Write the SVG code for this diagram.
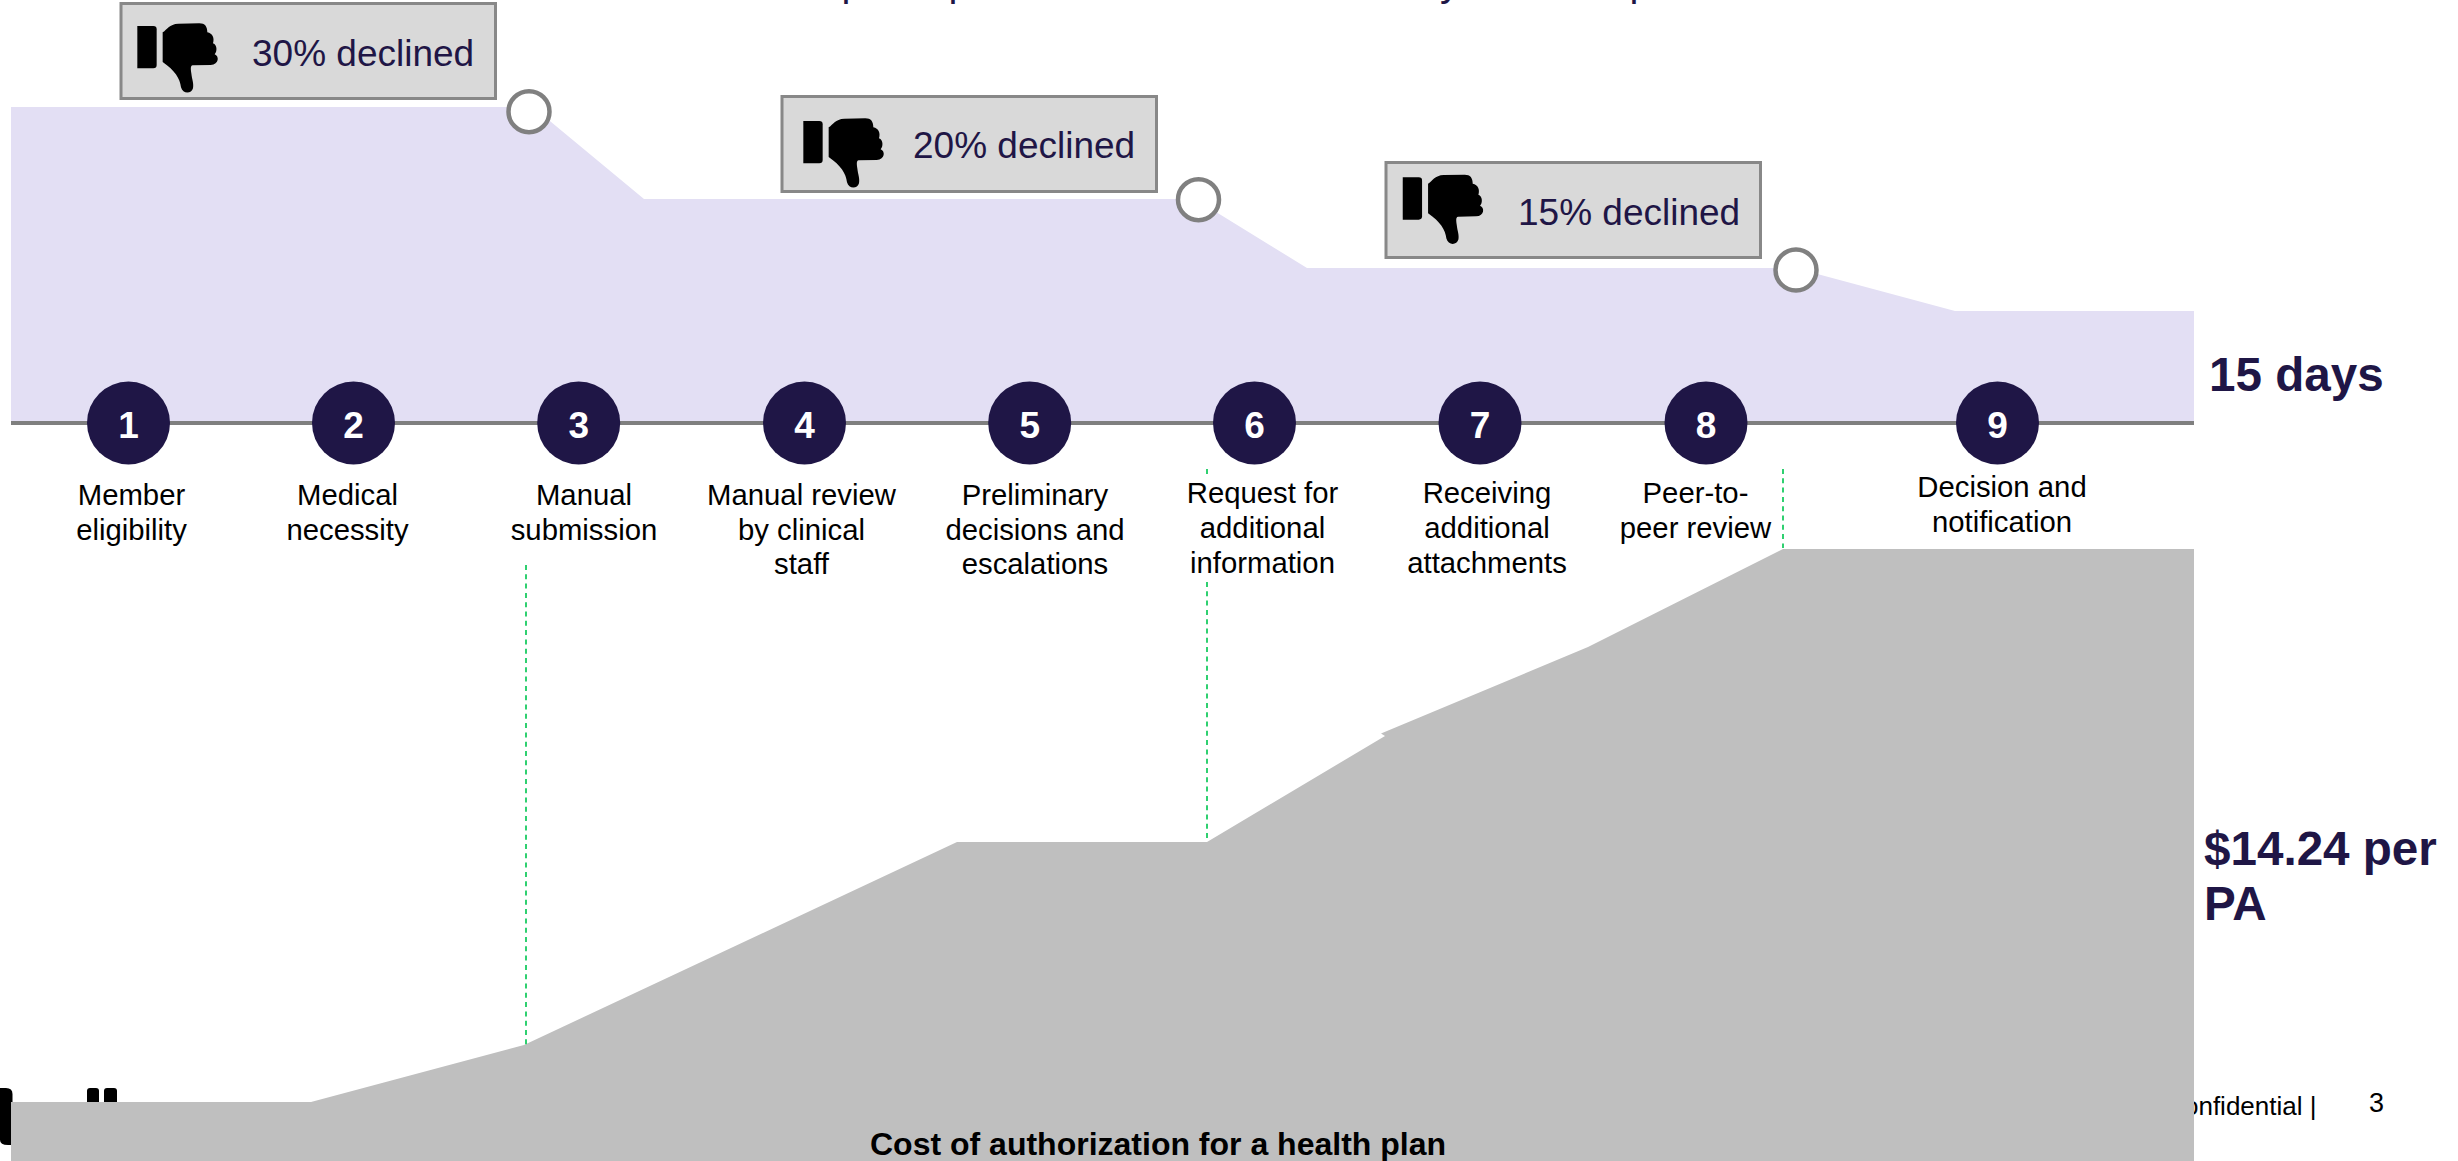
<svg xmlns="http://www.w3.org/2000/svg" width="2458" height="1161" viewBox="0 0 2458 1161">
<style>
text{font-family:"Liberation Sans",Arial,sans-serif}
.lab{font-size:29.300px;fill:#000;text-anchor:middle}
.num{font-size:37px;font-weight:700;fill:#fff;text-anchor:middle}
.dot{fill:#1f1646}
.tag{fill:#d9d9d9;stroke:#888;stroke-width:3}
.dec{font-size:37px;fill:#1f1646}
.big{font-size:47.600px;font-weight:700;fill:#1f1646}
.ring{fill:#fff;stroke:#808080;stroke-width:4.500}
.dash{stroke:#2fd070;stroke-width:2;stroke-dasharray:5 4.300;fill:none}
.ttl{font-size:40px;fill:#1f1646}
</style>
<defs>
<g id="thumb" transform="scale(0.3333)">
<path d="M52 78H100Q110 78 110 88V195Q110 205 100 205H52Z"/>
<path d="M128 97C140 90 148 72 175 71L238 70C255 70 262 80 262 97C278 100 284 115 279 130C292 135 292 155 284 163C298 168 298 194 272 195L218 196C210 197 213 210 214 220C216 240 222 250 219 265C215 282 188 283 183 262C180 235 165 212 128 186Z"/>
</g>
</defs>
<rect width="2458" height="1161" fill="#fff"/>
<g id="title-remnant">
<text class="ttl" x="841.600" y="-4">p</text>
<text class="ttl" x="948.600" y="-4">p</text>
<text class="ttl" x="1440" y="-4">y</text>
<text class="ttl" x="1629.600" y="-4">p</text>
</g>
<g id="footer">
<path d="M0 1088H6Q12.500 1088 12.500 1094V1145H8Q0 1145 0 1140Z" fill="#000"/>
<rect x="87" y="1088" width="12" height="30" rx="3" fill="#000"/>
<rect x="104" y="1088" width="13" height="30" rx="3" fill="#000"/>
<text x="2316.500" y="1115" font-size="26" text-anchor="end" fill="#000">Confidential |</text>
<text x="2376.500" y="1112" font-size="27" text-anchor="middle" fill="#000">3</text>
</g>
<g id="time-area">
<path d="M11 107H533L644 199H1195L1307 268H1795L1955 311H2194V421H11Z" fill="#e3dff4"/>
</g>
<g id="cost-area">
<path d="M11 1102H311L524 1045L957 842H1207L1385 736L1381 733.500L1588 647L1783 549H2194V1161H11Z" fill="#bfbfbf"/>
<text x="1158" y="1155" font-size="32" font-weight="700" text-anchor="middle" fill="#000">Cost of authorization for a health plan</text>
</g>
<g id="connectors">
<line x1="11" y1="423" x2="2194" y2="423" stroke="#7f7f7f" stroke-width="4"/>
<line class="dash" x1="526" y1="565" x2="526" y2="1045"/>
<line class="dash" x1="1207" y1="469" x2="1207" y2="474"/>
<line class="dash" x1="1207" y1="582" x2="1207" y2="842"/>
<line class="dash" x1="1783" y1="469" x2="1783" y2="548"/>
</g>
<g id="step-1"><circle class="dot" cx="128.500" cy="423" r="41.500"/><text class="num" x="128.500" y="438">1</text><text class="lab" x="131.500" y="505">Member</text><text class="lab" x="131.500" y="540">eligibility</text></g>
<g id="step-2"><circle class="dot" cx="353.500" cy="423" r="41.500"/><text class="num" x="353.500" y="438">2</text><text class="lab" x="347.500" y="505">Medical</text><text class="lab" x="347.500" y="540">necessity</text></g>
<g id="step-3"><circle class="dot" cx="578.700" cy="423" r="41.500"/><text class="num" x="578.700" y="438">3</text><text class="lab" x="584" y="505">Manual</text><text class="lab" x="584" y="540">submission</text></g>
<g id="step-4"><circle class="dot" cx="804.500" cy="423" r="41.500"/><text class="num" x="804.500" y="438">4</text><text class="lab" x="801.500" y="505">Manual review</text><text class="lab" x="801.500" y="540">by clinical</text><text class="lab" x="801.500" y="574">staff</text></g>
<g id="step-5"><circle class="dot" cx="1029.700" cy="423" r="41.500"/><text class="num" x="1029.700" y="438">5</text><text class="lab" x="1035" y="505">Preliminary</text><text class="lab" x="1035" y="540">decisions and</text><text class="lab" x="1035" y="574">escalations</text></g>
<g id="step-6"><circle class="dot" cx="1254.500" cy="423" r="41.500"/><text class="num" x="1254.500" y="438">6</text><text class="lab" x="1262.500" y="503">Request for</text><text class="lab" x="1262.500" y="538">additional</text><text class="lab" x="1262.500" y="573">information</text></g>
<g id="step-7"><circle class="dot" cx="1480" cy="423" r="41.500"/><text class="num" x="1480" y="438">7</text><text class="lab" x="1487" y="503">Receiving</text><text class="lab" x="1487" y="538">additional</text><text class="lab" x="1487" y="573">attachments</text></g>
<g id="step-8"><circle class="dot" cx="1706" cy="423" r="41.500"/><text class="num" x="1706" y="438">8</text><text class="lab" x="1695.500" y="503">Peer-to-</text><text class="lab" x="1695.500" y="538">peer review</text></g>
<g id="step-9"><circle class="dot" cx="1997.500" cy="423" r="41.500"/><text class="num" x="1997.500" y="438">9</text><text class="lab" x="2002" y="497">Decision and</text><text class="lab" x="2002" y="532">notification</text></g>
<g id="decline-30">
<circle class="ring" cx="529" cy="111.700" r="20.500"/>
<rect class="tag" x="121" y="3.500" width="374.500" height="95"/>
<use href="#thumb" transform="translate(120,0)"/>
<text class="dec" x="252" y="66">30% declined</text>
</g>
<g id="decline-20">
<circle class="ring" cx="1198.500" cy="199.700" r="20.500"/>
<rect class="tag" x="782" y="96.500" width="374.500" height="95"/>
<use href="#thumb" transform="translate(786,95)"/>
<text class="dec" x="913" y="157.700">20% declined</text>
</g>
<g id="decline-15">
<circle class="ring" cx="1796" cy="270" r="20.500"/>
<rect class="tag" x="1386" y="162.500" width="374.500" height="95"/>
<use href="#thumb" transform="translate(1385.400,151.300)"/>
<text class="dec" x="1518" y="225">15% declined</text>
</g>
<g id="totals">
<text class="big" x="2209" y="391">15 days</text>
<text class="big" x="2204" y="865">$14.24 per</text>
<text class="big" x="2204" y="920">PA</text>
</g>
</svg>
